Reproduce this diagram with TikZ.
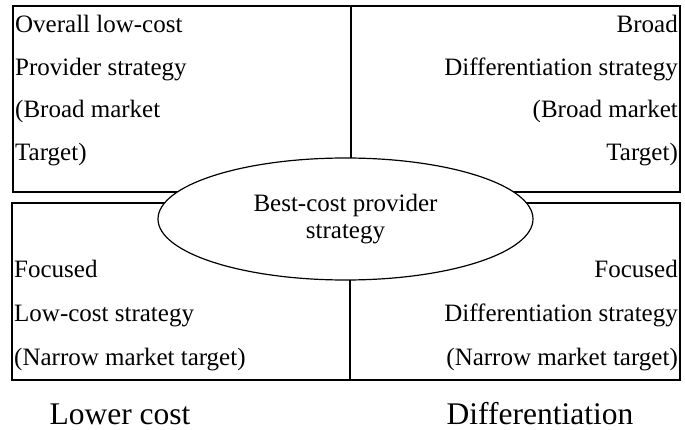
\documentclass[tikz,border=0pt]{standalone}
\usepackage{fontspec}
\setmainfont{Liberation Serif}
\usetikzlibrary{shapes.geometric}
\tikzset{
  quad/.style={line width=2pt},
  boxtext/.style={inner sep=0pt, font=\fontsize{25}{30}\selectfont},
  axislabel/.style={inner sep=0pt, font=\fontsize{31.5}{36}\selectfont},
  bestcost/.style={ellipse, draw, fill=white, line width=1.2pt, inner sep=0pt,
    minimum width=375pt, minimum height=122pt, align=center,
    font=\fontsize{25}{27}\selectfont}
}
\begin{document}
\begin{tikzpicture}[x=1pt,y=-1pt]
  \newcommand\quadtext[6]{% name, anchor, x, first baseline, skip, lines
    \foreach \txt [count=\i] in {#6} {
      \pgfmathsetmacro{\yb}{#4 + #5*(\i-1)}
      \node[boxtext, anchor=base #2] (#1-\i) at (#3, \yb) {\txt};
    }}
  \useasboundingbox (0,0) rectangle (685,430);
  % the four quadrants
  \draw[quad] (13,6) rectangle (351,192);
  \draw[quad] (351,6) rectangle (680,192);
  \draw[quad] (12,203) rectangle (350,380);
  \draw[quad] (350,203) rectangle (680,380);
  \quadtext{lowcost}{west}{15}{33}{42.5}{Overall low-cost, Provider strategy, {(Broad market}, Target)}
  \quadtext{diff}{east}{678}{33}{42.5}{Broad, Differentiation strategy, {(Broad market}, Target)}
  \quadtext{foclow}{west}{14}{278}{43.5}{Focused, Low-cost strategy, {(Narrow market target)}}
  \quadtext{focdiff}{east}{678}{278}{43.5}{Focused, Differentiation strategy, {(Narrow market target)}}
  % middle
  \node[bestcost] (best) at (345.5,219) {Best-cost provider\\strategy};
  % axis
  \node[axislabel, anchor=base] (lower) at (120,424) {Lower cost};
  \node[axislabel, anchor=base] (differ) at (540,424) {Differentiation};
\end{tikzpicture}
\end{document}
